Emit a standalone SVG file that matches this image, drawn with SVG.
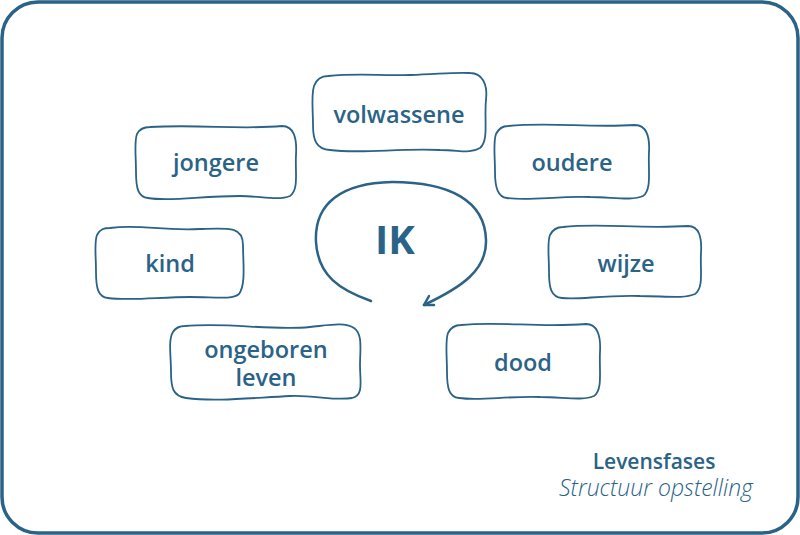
<svg xmlns="http://www.w3.org/2000/svg" width="800" height="535" viewBox="0 0 800 535">
<style>
.box{fill:#fff;stroke:#2a6387;stroke-width:1.8;stroke-linejoin:round}
.lbl{font-family:"Open Sans","Noto Sans",sans-serif;font-weight:600;font-size:23.5px;fill:#2a6387;text-anchor:middle}
.arrow{fill:none;stroke:#2a6387;stroke-width:2.5;stroke-linecap:round;stroke-linejoin:round}
</style>
<rect x="2" y="2" width="796" height="531" rx="36" fill="#fff" stroke="#2a6387" stroke-width="3.5"/>
<g id="connectors">
<path class="arrow" d="M371,301 C340,290 318,276 316,242 C314,203 342,183 392,182 C450,182 485,201 486,240 C487,270 462,287 424,305"/>
<path class="arrow" d="M434,305 L424,305 L429,296"/>
</g>
<g id="ik"><text x="395" y="254" font-family="Open Sans, sans-serif" font-weight="700" font-size="40" fill="#2a6387" text-anchor="middle">IK</text></g>
<g id="volwassene">
<path class="box" d="M328,76 C360,73 380,76 410,75 C440,74 455,72 470,73 C482,73 488,84 486,100 C484,120 489,140 480,148 C470,154 460,150 440,150 C400,148 360,154 330,150 C316,149 313,140 313,125 C313,110 311,95 314,86 C317,78 322,76 328,76 Z"/>
<text class="lbl" x="399" y="123">volwassene</text>
</g>
<g id="jongere">
<path class="box" d="M150,127 C200,124 240,130 282,126 C294,126 297,138 296,155 C295,172 299,190 290,196 C278,201 260,196 240,196 C200,196 170,202 148,198 C138,197 136,188 136,172 C136,155 134,142 137,134 C140,128 145,127 150,127 Z"/>
<text class="lbl" x="216" y="171">jongere</text>
</g>
<g id="oudere">
<path class="box" d="M508,126 C550,122 590,128 635,125 C646,125 650,136 649,152 C648,170 652,190 643,196 C632,201 612,197 590,197 C555,196 530,201 507,198 C498,197 495,188 495,172 C495,156 493,142 496,134 C499,128 503,126 508,126 Z"/>
<text class="lbl" x="572" y="171">oudere</text>
</g>
<g id="kind">
<path class="box" d="M110,228 C140,224 160,231 200,229 C228,228 243,226 243,245 C243,262 246,285 239,294 C232,300 215,297 190,297 C160,297 130,301 108,298 C98,297 96,288 96,272 C96,255 94,242 97,235 C100,229 104,228 110,228 Z"/>
<text class="lbl" x="170" y="272">kind</text>
</g>
<g id="wijze">
<path class="box" d="M563,227 C600,223 640,229 688,226 C699,226 702,237 701,253 C700,270 704,288 695,294 C684,299 665,296 640,296 C600,295 580,300 562,298 C551,297 549,288 549,272 C549,256 547,242 550,235 C553,229 557,227 563,227 Z"/>
<text class="lbl" x="626" y="272">wijze</text>
</g>
<g id="ongeboren-leven">
<path class="box" d="M185,326 C230,322 270,331 310,327 C330,325 345,322 354,328 C363,334 360,350 360,365 C360,382 364,395 352,398 C335,401 315,395 290,396 C250,398 215,402 186,398 C173,396 171,388 171,372 C171,356 168,340 173,332 C176,327 180,326 185,326 Z"/>
<text class="lbl" x="266" y="358">ongeboren</text>
<text class="lbl" x="266" y="386">leven</text>
</g>
<g id="dood">
<path class="box" d="M461,325 C500,321 540,328 586,324 C597,324 601,335 600,352 C599,370 603,390 594,396 C583,401 563,397 540,397 C505,396 480,401 459,398 C449,397 447,388 447,372 C447,356 445,341 448,333 C451,327 455,325 461,325 Z"/>
<text class="lbl" x="523" y="371">dood</text>
</g>
<g id="caption">
<text x="654" y="469" font-family="Open Sans, sans-serif" font-weight="600" font-size="21" fill="#2a6387" text-anchor="middle">Levensfases</text>
<text x="656" y="496" font-family="Open Sans, sans-serif" font-style="italic" font-weight="300" font-size="23" fill="#2a6387" text-anchor="middle">Structuur opstelling</text>
</g>
</svg>
